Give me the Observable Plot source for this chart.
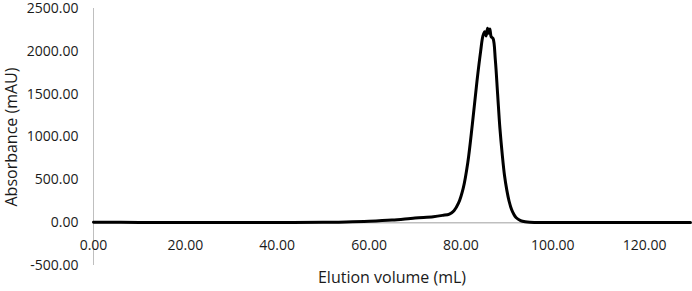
<!DOCTYPE html>
<html>
<head>
<meta charset="utf-8">
<script src="https://cdn.jsdelivr.net/npm/d3@7"></script>
<script src="https://cdn.jsdelivr.net/npm/@observablehq/plot@0.6"></script>
<style>
  html, body { margin: 0; padding: 0; background: #fff; }
</style>
</head>
<body>
<div id="chart"></div>
<script>
const volume = [0, 10, 20, 30, 40, 50, 55, 60, 65, 70, 74, 76, 77.5, 78.5, 79.5, 80.5, 81.5, 82.5, 83.5, 84.3, 84.8, 85.2, 85.5, 85.8, 86.0, 86.3, 86.6, 87.0, 87.5, 88.0, 88.5, 89.0, 89.5, 90.0, 90.5, 91.0, 91.5, 92.0, 93.0, 94.0, 95.0, 100, 110, 120, 130];
const absorbance = [5, 3, 2, 1, 2, 4, 8, 16, 30, 55, 70, 85, 100, 140, 230, 400, 700, 1150, 1650, 2000, 2180, 2230, 2180, 2270, 2210, 2260, 2170, 2150, 1900, 1500, 1100, 800, 550, 380, 250, 160, 100, 60, 25, 10, 4, 2, 1, 1, 1];
const yTicks = [-500, 0, 500, 1000, 1500, 2000, 2500];
const xTicks = [0, 20, 40, 60, 80, 100, 120];
const xTitle = "Elution volume (mL)";
const yTitle = "Absorbance (mAU)";

const data = volume.map((v, i) => ({v, a: absorbance[i]}));

const chart = Plot.plot({
  width: 692,
  height: 291,
  marginLeft: 93,
  marginRight: 2,
  marginTop: 8,
  marginBottom: 26,
  style: {fontFamily: "'Open Sans', sans-serif", fontSize: "14px", color: "#1a1a1a", background: "#fff"},
  x: {domain: [0, 130]},
  y: {domain: [-500, 2500]},
  marks: [
    Plot.ruleX([0], {stroke: "#bfbfbf", strokeWidth: 1}),
    Plot.ruleY([0], {stroke: "#bfbfbf", strokeWidth: 1.5}),
    Plot.axisY({ticks: yTicks, tickFormat: d => d.toFixed(2), tickSize: 0, tickPadding: 15, label: null}),
    Plot.axisX({ticks: [], label: null}),
    Plot.text(xTicks, {x: d => d, y: 0, text: d => d.toFixed(2), dy: 23, fill: "#1a1a1a"}),
    Plot.text([yTitle], {frameAnchor: "left", rotate: -90, dx: -82, textAnchor: "middle", fontSize: 16, fill: "#1a1a1a"}),
    Plot.text([xTitle], {frameAnchor: "bottom", dy: 17, textAnchor: "middle", fontSize: 16, fill: "#1a1a1a"}),
    Plot.line(data, {x: "v", y: "a", stroke: "#000", strokeWidth: 3, curve: "catmull-rom"})
  ]
});
document.getElementById("chart").appendChild(chart);
</script>
</body>
</html>
